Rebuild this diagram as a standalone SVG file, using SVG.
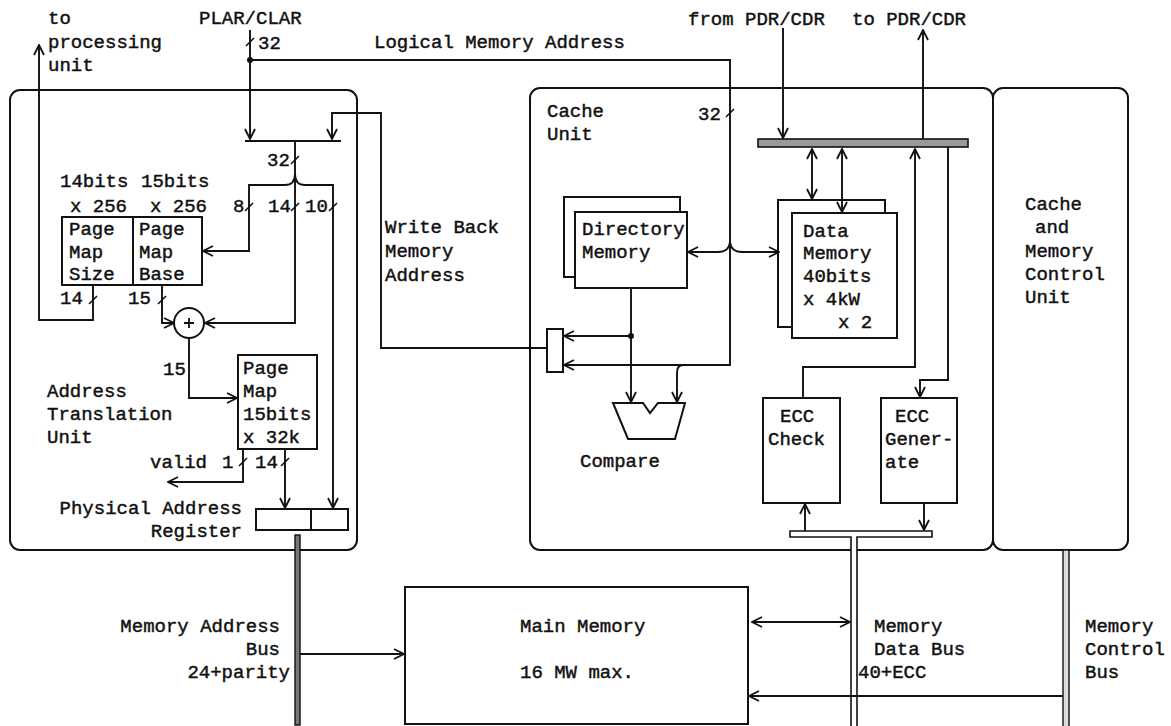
<svg xmlns="http://www.w3.org/2000/svg" width="1171" height="726" viewBox="0 0 1171 726">
<style>
.b{fill:#fff;stroke:#111;stroke-width:2}
.u{fill:none;stroke:#111;stroke-width:2}
.l{fill:none;stroke:#111;stroke-width:1.8}
.a{fill:none;stroke:#111;stroke-width:1.9;marker-end:url(#ah)}
.d{fill:none;stroke:#111;stroke-width:1.9;marker-end:url(#ah);marker-start:url(#ah)}
.k{fill:none;stroke:#111;stroke-width:1.6}
.t{font-family:"Liberation Mono","DejaVu Sans Mono",monospace;font-size:19px;fill:#111;stroke:#111;stroke-width:0.45}
.e{text-anchor:end}
</style>
<defs>
<marker id="ah" viewBox="0 0 12 12" refX="11" refY="6" markerWidth="12" markerHeight="12" markerUnits="userSpaceOnUse" orient="auto-start-reverse">
<path d="M1,1 L11,6 L1,11" fill="none" stroke="#111" stroke-width="1.8"/>
</marker>
</defs>
<rect width="1171" height="726" fill="#fff"/>

<g id="atu">
<rect class="u" x="10" y="90" width="347" height="460" rx="10"/>
<text class="t" x="47" y="397">Address</text>
<text class="t" x="47" y="420">Translation</text>
<text class="t" x="47" y="443">Unit</text>
</g>
<g id="cache-unit">
<rect class="u" x="530" y="88" width="463" height="462" rx="10"/>
<text class="t" x="547" y="117">Cache</text>
<text class="t" x="547" y="140">Unit</text>
</g>
<g id="cmcu">
<rect class="u" x="993" y="88" width="135" height="462" rx="10"/>
<text class="t" x="1025" y="210">Cache</text>
<text class="t" x="1035" y="233">and</text>
<text class="t" x="1025" y="257">Memory</text>
<text class="t" x="1025" y="280">Control</text>
<text class="t" x="1025" y="303">Unit</text>
</g>

<g id="addr-select">
<line class="u" x1="245" y1="141" x2="341" y2="141"/>
</g>
<g id="page-map-size-base">
<rect class="b" x="62" y="217" width="140" height="68"/>
<line class="u" x1="133" y1="217" x2="133" y2="285"/>
<text class="t" x="69" y="235">Page</text>
<text class="t" x="69" y="258">Map</text>
<text class="t" x="69" y="280">Size</text>
<text class="t" x="139" y="235">Page</text>
<text class="t" x="139" y="258">Map</text>
<text class="t" x="139" y="280">Base</text>
<text class="t" x="60" y="187">14bits</text>
<text class="t" x="141" y="187">15bits</text>
<text class="t" x="70" y="212">x 256</text>
<text class="t" x="150" y="212">x 256</text>
</g>
<g id="adder">
<circle class="b" cx="189" cy="323" r="15"/>
<path class="l" d="M184,323 H194 M189,318 V328"/>
</g>
<g id="page-map">
<rect class="b" x="238" y="355" width="79" height="94"/>
<text class="t" x="243" y="374">Page</text>
<text class="t" x="243" y="397">Map</text>
<text class="t" x="243" y="420">15bits</text>
<text class="t" x="243" y="443">x 32k</text>
</g>
<g id="par">
<rect class="b" x="256" y="509" width="92" height="21"/>
<line class="u" x1="311" y1="509" x2="311" y2="530"/>
<text class="t e" x="242" y="514">Physical Address</text>
<text class="t e" x="242" y="537">Register</text>
</g>
<g id="wb-mux">
<rect class="b" x="547" y="329" width="16" height="43"/>
</g>
<g id="directory-memory">
<rect class="b" x="564" y="197" width="116" height="80"/>
<rect class="b" x="575" y="212" width="112" height="76"/>
<text class="t" x="582" y="235">Directory</text>
<text class="t" x="582" y="258">Memory</text>
</g>
<g id="compare">
<polygon class="b" points="613,403 643,403 650,413 658,403 685,403 675,439 628,439"/>
<text class="t" x="580" y="467">Compare</text>
</g>
<g id="data-memory">
<rect class="b" x="778" y="200" width="107" height="127"/>
<rect class="b" x="792" y="213" width="105" height="125"/>
<text class="t" x="803" y="237">Data</text>
<text class="t" x="803" y="259">Memory</text>
<text class="t" x="803" y="282">40bits</text>
<text class="t" x="803" y="305">x 4kW</text>
<text class="t" x="838" y="328">x 2</text>
</g>
<g id="ecc-check">
<rect class="b" x="763" y="398" width="77" height="105"/>
<text class="t" x="780" y="422">ECC</text>
<text class="t" x="768" y="445">Check</text>
</g>
<g id="ecc-generate">
<rect class="b" x="881" y="398" width="76" height="105"/>
<text class="t" x="895" y="422">ECC</text>
<text class="t" x="885" y="445">Gener-</text>
<text class="t" x="885" y="468">ate</text>
</g>
<g id="main-memory">
<rect class="b" x="405" y="587" width="343" height="137"/>
<text class="t" x="520" y="632">Main Memory</text>
<text class="t" x="520" y="678">16 MW max.</text>
</g>

<g id="buses">
<rect x="758" y="139" width="210" height="8" fill="#999" stroke="#111" stroke-width="1.6"/>
<path d="M851,730 V537 H790 V531 H932 V537 H857 V730" fill="#fff" stroke="#111" stroke-width="1.6"/>
<rect x="295" y="535" width="5" height="190" fill="#777" stroke="#111" stroke-width="1.4"/>
<rect x="1063" y="550" width="6" height="180" fill="#ddd" stroke="#111" stroke-width="1.4"/>
<text class="t e" x="280" y="632">Memory Address</text>
<text class="t e" x="280" y="655">Bus</text>
<text class="t e" x="290" y="678">24+parity</text>
<text class="t" x="874" y="632">Memory</text>
<text class="t" x="874" y="655">Data Bus</text>
<text class="t" x="858" y="678">40+ECC</text>
<text class="t" x="1085" y="632">Memory</text>
<text class="t" x="1085" y="655">Control</text>
<text class="t" x="1085" y="678">Bus</text>
</g>

<g id="connectors">
<path class="a" d="M93,285 V320 H39 V45"/>
<path class="a" d="M250,30 V139"/>
<circle cx="250" cy="60" r="3" fill="#111"/>
<path class="a" d="M250,60 H730 V365 H564"/>
<path class="a" d="M683,365 Q677,365 677,373 V402"/>
<path class="d" d="M688,252 H718 Q729,252 730,242 Q731,252 742,252 H779"/>
<path class="a" d="M547,348 H381 V113 H332 V139"/>
<path class="a" d="M631,288 V402"/>
<circle cx="631" cy="336" r="3" fill="#111"/>
<path class="a" d="M631,336 H564"/>
<path class="a" d="M295,141 V323 H205"/>
<path class="a" d="M295,174 Q295,185 285,185 H249 V251 H203"/>
<path class="a" d="M295,174 Q295,185 305,185 H333 V508"/>
<path class="a" d="M162,285 V323 H174"/>
<path class="a" d="M189,338 V398 H237"/>
<path class="a" d="M243,449 V482 H168"/>
<path class="a" d="M285,449 V508"/>
<path class="a" d="M783,28 V138"/>
<path class="a" d="M923,139 V30"/>
<path class="d" d="M812,149 V199"/>
<path class="d" d="M842,149 V212"/>
<path class="a" d="M803,398 V367 H915 V149"/>
<path class="a" d="M948,147 V380 H920 V397"/>
<path class="a" d="M805,531 V504"/>
<path class="a" d="M924,503 V530"/>
<path class="d" d="M752,622 H850"/>
<path class="a" d="M1063,696 H749"/>
<path class="a" d="M300,654 H404"/>
<g id="width-ticks">
<path class="k" d="M246,46 L254,38"/>
<path class="k" d="M726,117 L734,109"/>
<path class="k" d="M291,164 L299,156"/>
<path class="k" d="M245,211 L253,203"/>
<path class="k" d="M291,211 L299,203"/>
<path class="k" d="M329,211 L337,203"/>
<path class="k" d="M89,304 L97,296"/>
<path class="k" d="M158,304 L166,296"/>
<path class="k" d="M239,466 L247,458"/>
<path class="k" d="M281,466 L289,458"/>
</g>
<text class="t" x="199" y="24">PLAR/CLAR</text>
<text class="t" x="258" y="49">32</text>
<text class="t" x="374" y="48">Logical Memory Address</text>
<text class="t" x="48" y="24">to</text>
<text class="t" x="48" y="48">processing</text>
<text class="t" x="48" y="71">unit</text>
<text class="t" x="688" y="25">from PDR/CDR</text>
<text class="t" x="852" y="25">to PDR/CDR</text>
<text class="t" x="698" y="120">32</text>
<text class="t" x="267" y="166">32</text>
<text class="t" x="233" y="212">8</text>
<text class="t" x="268" y="212">14</text>
<text class="t" x="305" y="212">10</text>
<text class="t" x="60" y="304">14</text>
<text class="t" x="128" y="304">15</text>
<text class="t" x="163" y="375">15</text>
<text class="t" x="150" y="468">valid</text>
<text class="t" x="222" y="468">1</text>
<text class="t" x="255" y="468">14</text>
<text class="t" x="385" y="233">Write Back</text>
<text class="t" x="385" y="257">Memory</text>
<text class="t" x="385" y="281">Address</text>
</g>
</svg>
